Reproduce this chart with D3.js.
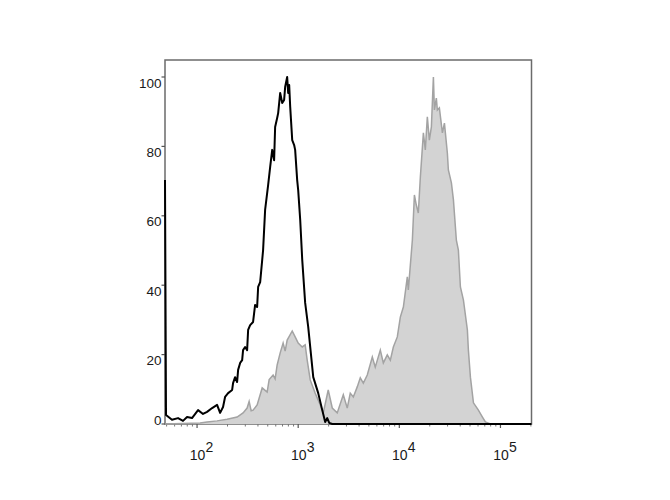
<!DOCTYPE html>
<html lang="en">
<head>
    <meta charset="UTF-8">
    <title>Flow histogram</title>
    <script src="https://cdn.jsdelivr.net/npm/d3@7"></script>
    <style>
        body { margin: 0; background: #fff; }
        text { font-family: Arial, "Liberation Sans", sans-serif; fill: #1a1a1a; }
    </style>
</head>
<body>
    <script>
        // channel position in decades (log10) and % of max
        const isoDecade = [1.683, 1.693, 1.752, 1.812, 1.861, 1.901, 1.950, 2.010, 2.059, 2.099, 2.149, 2.198,
            2.228, 2.257, 2.277, 2.307, 2.347, 2.356, 2.376, 2.396, 2.406, 2.426, 2.446, 2.455, 2.475, 2.495,
            2.505, 2.525, 2.554, 2.574, 2.594, 2.604, 2.624, 2.653, 2.673,
            2.703, 2.723, 2.743, 2.762, 2.772, 2.792, 2.802, 2.822, 2.842, 2.861, 2.871, 2.891, 2.901, 2.911,
            2.921, 2.941, 2.960, 2.970, 2.990, 3.000, 3.020, 3.040, 3.069, 3.099, 3.149, 3.198, 3.238, 3.267,
            3.287, 3.307, 3.337, 5.307]
        const isoPct = [70.3, 2.6, 1.2, 1.7, 0.9, 2.0, 1.7, 4.0, 2.9, 3.5, 4.6, 5.5,
            3.2, 4.9, 7.8, 8.9, 9.8, 11.8, 13.5, 12.1, 15.6, 17.6, 18.4, 21.3, 22.2, 21.3,
            27.1, 28.5, 29.4, 34.3, 33.7, 39.5, 40.9, 50.1, 61.7,
            68.9, 74.1, 79.0, 76.0, 85.6, 88.2, 89.6, 95.4, 92.5, 93.4, 97.1, 100, 95.4, 97.7,
            91.4, 81.8, 80.4, 79.0, 70.3, 67.4, 58.8, 47.3, 34.9, 28.0, 13.5, 8.9, 4.0, 0.6,
            1.7, 0.3, 0, 0]

        const stainDecade = [1.683, 2.030, 2.099, 2.198, 2.297, 2.396, 2.455, 2.495, 2.515, 2.535, 2.554, 2.594,
            2.644, 2.693, 2.713, 2.752, 2.772, 2.792, 2.822, 2.851, 2.871, 2.891, 2.941, 2.970, 3.000, 3.040,
            3.069, 3.089, 3.119, 3.168, 3.218,
            3.248, 3.297, 3.337, 3.386, 3.446, 3.485, 3.515, 3.545, 3.584, 3.614, 3.644, 3.683, 3.733, 3.762,
            3.812, 3.842, 3.881, 3.911, 3.941, 3.980, 4.010, 4.040, 4.079, 4.089, 4.109, 4.129, 4.149, 4.168,
            4.188, 4.208, 4.238, 4.257, 4.277, 4.297, 4.317, 4.337, 4.347, 4.366, 4.376, 4.396, 4.426, 4.446,
            4.475, 4.485, 4.515, 4.535, 4.564, 4.584, 4.604, 4.634, 4.673, 4.683, 4.703, 4.733, 4.782, 4.822,
            4.851, 4.901, 5.307]
        const stainPct = [0, 0.3, 0.6, 0.9, 1.4, 2.0, 3.2, 4.6, 6.5, 3.8, 4.0, 5.5,
            10.4, 9.2, 12.8, 14.1, 13.0, 17.0, 20.5, 23.3, 21.0, 24.2, 26.8, 25.1, 23.3, 22.2,
            22.8, 18.4, 12.7, 8.9, 5.5,
            3.2, 9.8, 4.6, 3.2, 8.4, 4.6, 8.9, 7.8, 10.7, 13.3, 11.8, 14.1, 19.3, 16.4,
            21.3, 17.6, 19.9, 18.4, 22.2, 25.1, 30.8, 33.7, 42.4, 38.6, 45.8, 53.0, 66.0, 63.1,
            60.8, 71.2, 83.9, 79.0, 88.5, 81.8, 85.6, 100, 90.5, 93.9, 90.5, 91.1, 83.9, 86.7,
            78.1, 73.2, 69.5, 64.6, 53.0, 50.1, 39.5, 35.7, 27.1, 21.3, 13.5, 6.1, 4.0, 2.0,
            0.6, 0, 0]

        const yTicks = [0, 20, 40, 60, 80, 100]
        const xDecades = [2, 3, 4, 5]

        const w = 670
        const h = 500
        const pLeft = 165
        const pRight = 531.5
        const pBottom = 424
        const pTop = 60

        const svg = d3.select("body").append("svg").attr("width", w).attr("height", h)

        const x = d3.scaleLog().domain([10 ** 1.683, 10 ** 5.307]).range([pLeft, pRight])
        const y = d3.scaleLinear().domain([0, 100]).range([pBottom, 77])

        //frame
        svg.append("rect")
            .attr("x", pLeft).attr("y", pTop)
            .attr("width", pRight - pLeft).attr("height", pBottom - pTop)
            .attr("fill", "none").attr("stroke", "#6b6b6b").attr("stroke-width", 1.5)

        //y axis
        const yAxis = svg.append("g").attr("transform", `translate(${pLeft},0)`)
        yAxis.selectAll("line").data(yTicks).enter().append("line")
            .attr("x1", -3.5).attr("x2", 0)
            .attr("y1", d => y(d)).attr("y2", d => y(d))
            .attr("stroke", "#555").attr("stroke-width", 1.2)
        yAxis.selectAll("text").data(yTicks).enter().append("text")
            .attr("x", -3.5)
            .attr("y", d => d === 0 ? y(d) + 1 : y(d) + 10.5)
            .attr("text-anchor", "end")
            .attr("font-size", 13.5)
            .text(d => d)

        //x axis - major and minor ticks
        const minor = []
        xDecades.concat([1]).forEach(p => {
            for (let m = 2; m < 10; m++) {
                const v = m * 10 ** p
                if (v > x.domain()[0] && v < x.domain()[1]) minor.push(v)
            }
        })
        const xAxis = svg.append("g").attr("transform", `translate(0,${pBottom})`)
        xAxis.selectAll("line.minor").data(minor).enter().append("line")
            .attr("class", "minor")
            .attr("x1", d => x(d)).attr("x2", d => x(d))
            .attr("y1", 0).attr("y2", 2.5)
            .attr("stroke", "#777").attr("stroke-width", 1)
        xAxis.selectAll("line.major").data(xDecades).enter().append("line")
            .attr("class", "major")
            .attr("x1", d => x(10 ** d)).attr("x2", d => x(10 ** d))
            .attr("y1", 0).attr("y2", 4)
            .attr("stroke", "#555").attr("stroke-width", 1.2)
        const xLab = xAxis.selectAll("g.lab").data(xDecades).enter().append("g")
            .attr("class", "lab")
            .attr("transform", d => `translate(${x(10 ** d)},0)`)
        xLab.append("text")
            .attr("x", 0.5).attr("y", 36)
            .attr("text-anchor", "middle")
            .attr("font-size", 14)
            .text("10")
        xLab.append("text")
            .attr("x", 8.5).attr("y", 28)
            .attr("font-size", 14)
            .text(d => d)

        //stained sample, filled grey
        const stained = stainDecade.map((d, i) => [d, stainPct[i]])
        svg.append("path")
            .datum(stained)
            .attr("d", d3.area().x(d => x(10 ** d[0])).y0(pBottom).y1(d => y(d[1])))
            .attr("fill", "#d3d3d3")
        svg.append("path")
            .datum(stained)
            .attr("d", d3.line().x(d => x(10 ** d[0])).y(d => y(d[1])))
            .attr("fill", "none").attr("stroke", "#a3a3a3").attr("stroke-width", 1.5)

        //isotype control, black outline
        const iso = isoDecade.map((d, i) => [d, isoPct[i]])
        svg.append("path")
            .datum(iso)
            .attr("d", d3.line().x(d => x(10 ** d[0])).y(d => y(d[1])))
            .attr("fill", "none").attr("stroke", "#000").attr("stroke-width", 2)
            .attr("stroke-linejoin", "round")
    </script>
</body>
</html>
